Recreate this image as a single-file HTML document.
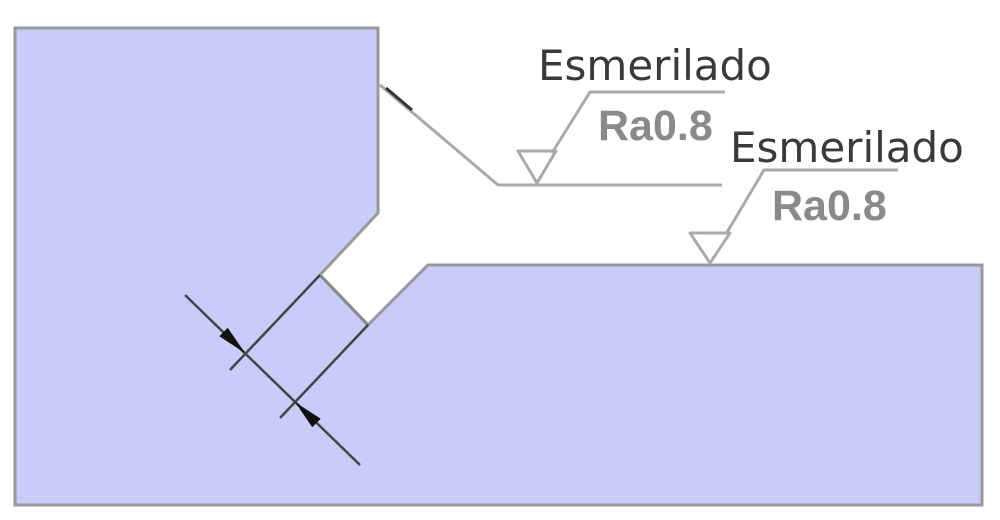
<!DOCTYPE html>
<html><head><style>body{margin:0;background:#fff}svg{display:block}</style></head><body>
<svg width="1000" height="520" xmlns="http://www.w3.org/2000/svg">
<polygon points="15,28 378,28 378,213 320,275 368,325 428,265 982,265 982,505 15,505" fill="#c8ccf8" stroke="#999" stroke-width="3"/>
<line x1="320" y1="275" x2="368" y2="325" stroke="#888" stroke-width="3"/>
<g stroke="#444" stroke-width="2.5">
<line x1="320" y1="275" x2="230" y2="370"/>
<line x1="368" y1="325" x2="280" y2="418"/>
<line x1="185" y1="295" x2="360" y2="465"/>
</g>
<polygon points="245,353 219.3,336.3 227.7,327.7" fill="#111"/>
<polygon points="295,402 312.3,427.3 320.7,418.7" fill="#111"/>
<g stroke="#aaa" stroke-width="3" fill="none" stroke-linejoin="round">
<polyline points="380,85 498,185 722,185"/>
<polygon points="518,151 556,151 537,183"/>
<polyline points="552,153 590,92 725,92"/>
<polygon points="690,233 730,233 710,263"/>
<polyline points="726,234 764,170 898,170"/>
</g>
<line x1="386" y1="88" x2="412" y2="110" stroke="#333" stroke-width="3"/>
<g font-family="Liberation Sans, sans-serif" font-weight="bold" font-size="43" fill="#8a8a8a">
<text x="598" y="140">Ra0.8</text>
<text x="772" y="220">Ra0.8</text>
</g>
<g font-family="DejaVu Sans, sans-serif" font-size="42" fill="#3a3a3a">
<text x="538" y="80">Esmerilado</text>
<text x="730" y="162">Esmerilado</text>
</g>
</svg>
</body></html>
